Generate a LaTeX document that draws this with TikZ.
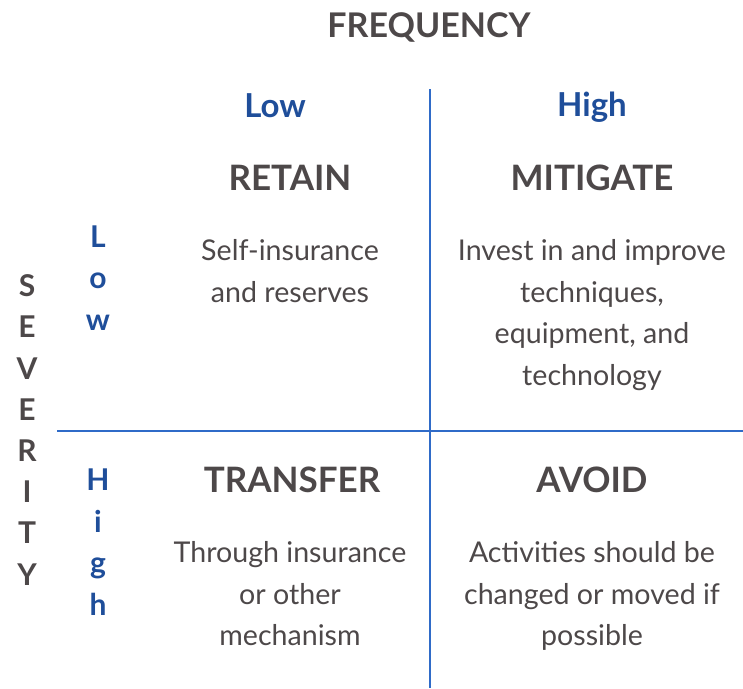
\documentclass[tikz,border=0pt]{standalone}
\usepackage{fontspec}
\setmainfont{Lato}
\usetikzlibrary{positioning}

\definecolor{txtgrey}{HTML}{4D4849}
\definecolor{hdblue}{HTML}{1F4E9A}
\definecolor{lnblue}{HTML}{2F6BC8}

\tikzset{
  title/.style={font=\fontsize{34}{38}\selectfont\bfseries, text=txtgrey},
  colhead/.style={font=\fontsize{33}{38}\selectfont\bfseries, text=hdblue},
  rowhead/.style={font=\fontsize{30}{41.5}\selectfont\bfseries, text=hdblue, align=center},
  action/.style={font=\fontsize{35}{38}\selectfont\bfseries, text=txtgrey},
  descr/.style={font=\fontsize{28.6}{41.5}\selectfont, text=txtgrey, align=center},
  axis/.style={font=\fontsize{30}{41.2}\selectfont\bfseries, text=txtgrey, align=center},
  grid/.style={draw=lnblue, line width=2pt}
}

\begin{document}
\begin{tikzpicture}[x=1pt, y=-1pt]
  \useasboundingbox (0,0) rectangle (743,688);

  % the two dividing lines
  \draw[grid] (430,89) -- (430,688);
  \draw[grid] (57,431) -- (743,431);

  % axis titles
  \node[title] (freq) at (429,27) {FREQUENCY};
  \node[axis] (sev) at (27,430) {S\\E\\V\\E\\R\\I\\T\\Y};

  % column and row headers
  \node[colhead] (flow) at (275,106) {Low};
  \node[colhead] (fhigh) at (592,107) {High};
  \node[rowhead] (slow) at (98,278) {L\\o\\w};
  \node[rowhead] (shigh) at (98,542) {H\\i\\g\\h};

  % quadrants
  \node[action] (retain) at (290,178) {RETAIN};
  \node[action] (mitigate) at (592,178) {MITIGATE};
  \node[action] (transfer) at (292,480) {TRANSFER};
  \node[action] (avoid) at (592,480) {AVOID};

  \node[descr] (retaind) at (290,271) {Self-insurance\\and reserves};
  \node[descr] (mitigated) at (592,315) {Invest in and improve\\techniques,\\equipment, and\\technology};
  \node[descr] (transferd) at (290,594) {Through insurance\\or other\\mechanism};
  \node[descr] (avoidd) at (592,596) {Activities should be\\changed or moved if\\possible};
\end{tikzpicture}
\end{document}
